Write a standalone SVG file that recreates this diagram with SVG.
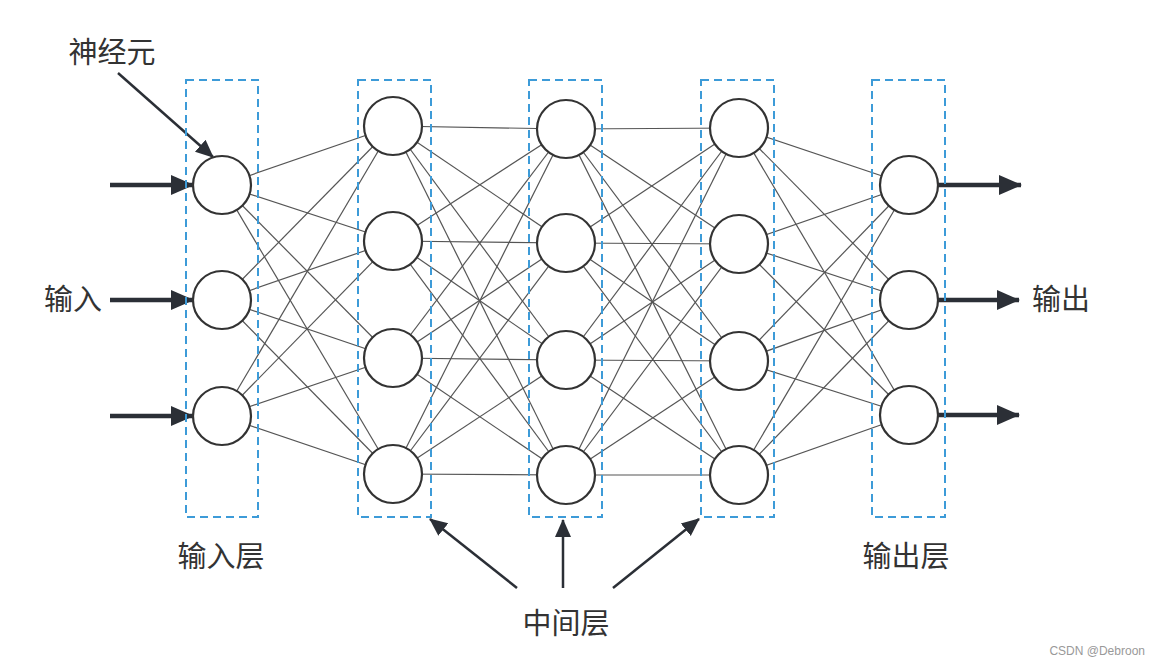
<svg xmlns="http://www.w3.org/2000/svg" width="1160" height="664" viewBox="0 0 1160 664">
<style>
.lbl{font-family:"Noto Sans CJK SC","Noto Sans",sans-serif;font-size:29px;fill:#333}
.wm{font-family:"Liberation Sans",Arial,sans-serif;font-size:12px;fill:#999}
.node{fill:#fff;stroke:#333;stroke-width:2.2}
.box{fill:none;stroke:#3d9bd8;stroke-width:2;stroke-dasharray:8 5}
.edge{stroke:#555;stroke-width:1.2}
.big{stroke:#2b2f36;stroke-width:4.5;fill:none}
.thin{stroke:#2b2f36;stroke-width:2.5;fill:none}
</style>
<defs>
<marker id="ah" markerUnits="userSpaceOnUse" markerWidth="26" markerHeight="24" refX="22" refY="12" orient="auto">
<path d="M0,2 L23,12 L0,22 Z" fill="#2b2f36"/>
</marker>
<marker id="ahs" markerUnits="userSpaceOnUse" markerWidth="20" markerHeight="20" refX="17" refY="10" orient="auto">
<path d="M0,2 L18,10 L0,18 Z" fill="#2b2f36"/>
</marker>
</defs>
<rect width="1160" height="664" fill="#fff"/>
<g id="connectors">
<line class="edge" x1="222" y1="185" x2="393" y2="126"/><line class="edge" x1="222" y1="185" x2="393" y2="241"/><line class="edge" x1="222" y1="185" x2="393" y2="358"/><line class="edge" x1="222" y1="185" x2="393" y2="474"/>
<line class="edge" x1="222" y1="300" x2="393" y2="126"/><line class="edge" x1="222" y1="300" x2="393" y2="241"/><line class="edge" x1="222" y1="300" x2="393" y2="358"/><line class="edge" x1="222" y1="300" x2="393" y2="474"/>
<line class="edge" x1="222" y1="416" x2="393" y2="126"/><line class="edge" x1="222" y1="416" x2="393" y2="241"/><line class="edge" x1="222" y1="416" x2="393" y2="358"/><line class="edge" x1="222" y1="416" x2="393" y2="474"/>
<line class="edge" x1="393" y1="126" x2="566" y2="129"/><line class="edge" x1="393" y1="126" x2="566" y2="243"/><line class="edge" x1="393" y1="126" x2="566" y2="360"/><line class="edge" x1="393" y1="126" x2="566" y2="475"/>
<line class="edge" x1="393" y1="241" x2="566" y2="129"/><line class="edge" x1="393" y1="241" x2="566" y2="243"/><line class="edge" x1="393" y1="241" x2="566" y2="360"/><line class="edge" x1="393" y1="241" x2="566" y2="475"/>
<line class="edge" x1="393" y1="358" x2="566" y2="129"/><line class="edge" x1="393" y1="358" x2="566" y2="243"/><line class="edge" x1="393" y1="358" x2="566" y2="360"/><line class="edge" x1="393" y1="358" x2="566" y2="475"/>
<line class="edge" x1="393" y1="474" x2="566" y2="129"/><line class="edge" x1="393" y1="474" x2="566" y2="243"/><line class="edge" x1="393" y1="474" x2="566" y2="360"/><line class="edge" x1="393" y1="474" x2="566" y2="475"/>
<line class="edge" x1="566" y1="129" x2="739" y2="128"/><line class="edge" x1="566" y1="129" x2="739" y2="244"/><line class="edge" x1="566" y1="129" x2="739" y2="361"/><line class="edge" x1="566" y1="129" x2="739" y2="475"/>
<line class="edge" x1="566" y1="243" x2="739" y2="128"/><line class="edge" x1="566" y1="243" x2="739" y2="244"/><line class="edge" x1="566" y1="243" x2="739" y2="361"/><line class="edge" x1="566" y1="243" x2="739" y2="475"/>
<line class="edge" x1="566" y1="360" x2="739" y2="128"/><line class="edge" x1="566" y1="360" x2="739" y2="244"/><line class="edge" x1="566" y1="360" x2="739" y2="361"/><line class="edge" x1="566" y1="360" x2="739" y2="475"/>
<line class="edge" x1="566" y1="475" x2="739" y2="128"/><line class="edge" x1="566" y1="475" x2="739" y2="244"/><line class="edge" x1="566" y1="475" x2="739" y2="361"/><line class="edge" x1="566" y1="475" x2="739" y2="475"/>
<line class="edge" x1="739" y1="128" x2="909" y2="185"/><line class="edge" x1="739" y1="128" x2="909" y2="300"/><line class="edge" x1="739" y1="128" x2="909" y2="415"/>
<line class="edge" x1="739" y1="244" x2="909" y2="185"/><line class="edge" x1="739" y1="244" x2="909" y2="300"/><line class="edge" x1="739" y1="244" x2="909" y2="415"/>
<line class="edge" x1="739" y1="361" x2="909" y2="185"/><line class="edge" x1="739" y1="361" x2="909" y2="300"/><line class="edge" x1="739" y1="361" x2="909" y2="415"/>
<line class="edge" x1="739" y1="475" x2="909" y2="185"/><line class="edge" x1="739" y1="475" x2="909" y2="300"/><line class="edge" x1="739" y1="475" x2="909" y2="415"/>
<line class="big" x1="110" y1="185" x2="193" y2="185" marker-end="url(#ah)"/>
<line class="big" x1="110" y1="300" x2="193" y2="300" marker-end="url(#ah)"/>
<line class="big" x1="110" y1="416" x2="193" y2="416" marker-end="url(#ah)"/>
<line class="big" x1="938" y1="185" x2="1021" y2="185" marker-end="url(#ah)"/>
<line class="big" x1="938" y1="300" x2="1019" y2="300" marker-end="url(#ah)"/>
<line class="big" x1="938" y1="415" x2="1019" y2="415" marker-end="url(#ah)"/>
<line class="thin" x1="118" y1="73" x2="213" y2="157" marker-end="url(#ahs)"/>
<line class="thin" x1="517" y1="588" x2="430" y2="519" marker-end="url(#ahs)"/>
<line class="thin" x1="563" y1="588" x2="563" y2="520" marker-end="url(#ahs)"/>
<line class="thin" x1="613" y1="588" x2="699" y2="519" marker-end="url(#ahs)"/>
</g>
<g id="layer-input">
<circle id="n1-1" class="node" cx="222" cy="185" r="29"/>
<circle id="n1-2" class="node" cx="222" cy="300" r="29"/>
<circle id="n1-3" class="node" cx="222" cy="416" r="29"/>
<rect class="box" x="186" y="80" width="72" height="437"/>
</g>
<g id="layer-hidden1">
<circle class="node" cx="393" cy="126" r="29"/>
<circle class="node" cx="393" cy="241" r="29"/>
<circle class="node" cx="393" cy="358" r="29"/>
<circle class="node" cx="393" cy="474" r="29"/>
<rect class="box" x="358" y="80" width="73" height="437"/>
</g>
<g id="layer-hidden2">
<circle class="node" cx="566" cy="129" r="29"/>
<circle class="node" cx="566" cy="243" r="29"/>
<circle class="node" cx="566" cy="360" r="29"/>
<circle class="node" cx="566" cy="475" r="29"/>
<rect class="box" x="529" y="80" width="73" height="437"/>
</g>
<g id="layer-hidden3">
<circle class="node" cx="739" cy="128" r="29"/>
<circle class="node" cx="739" cy="244" r="29"/>
<circle class="node" cx="739" cy="361" r="29"/>
<circle class="node" cx="739" cy="475" r="29"/>
<rect class="box" x="701" y="80" width="73" height="437"/>
</g>
<g id="layer-output">
<circle class="node" cx="909" cy="185" r="29"/>
<circle class="node" cx="909" cy="300" r="29"/>
<circle class="node" cx="909" cy="415" r="29"/>
<rect class="box" x="872" y="80" width="73" height="437"/>
</g>
<g id="labels">
<text class="lbl" x="112" y="63" text-anchor="middle">神经元</text>
<text class="lbl" x="73" y="310" text-anchor="middle">输入</text>
<text class="lbl" x="1061" y="310" text-anchor="middle">输出</text>
<text class="lbl" x="221" y="567" text-anchor="middle">输入层</text>
<text class="lbl" x="906" y="567" text-anchor="middle">输出层</text>
<text class="lbl" x="566" y="634" text-anchor="middle">中间层</text>
<text class="wm" x="1145" y="655" text-anchor="end">CSDN @Debroon</text>
</g>
</svg>
